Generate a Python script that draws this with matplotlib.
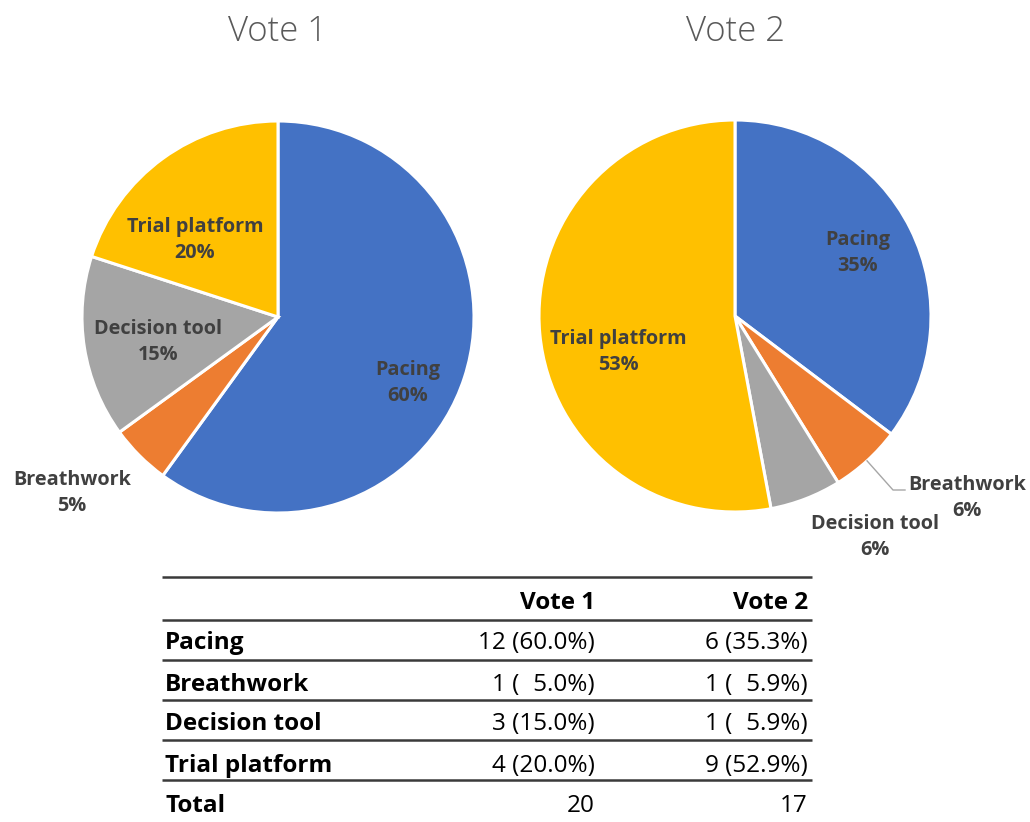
import numpy as np
import matplotlib
matplotlib.use("Agg")
import matplotlib.pyplot as plt

# ---- data ----
categories = ["Pacing", "Breathwork", "Decision tool", "Trial platform"]
vote1 = [12, 1, 3, 4]
vote2 = [6, 1, 1, 9]
titles = ["Vote 1", "Vote 2"]
colors = ["#4472C4", "#ED7D31", "#A5A5A5", "#FFC000"]

W, H = 1030, 822
fig = plt.figure(figsize=(W / 100, H / 100), dpi=100)
ax = fig.add_axes([0, 0, 1, 1])
ax.set_xlim(0, W)
ax.set_ylim(0, H)
ax.set_aspect("equal")
ax.axis("off")

def Y(y):
    return H - y

R = 196
centers = [(278, Y(317)), (735, Y(316))]
title_pos = [(278, Y(32)), (735, Y(32))]

label_font = dict(family=["Open Sans", "DejaVu Sans"], fontweight="bold",
                  fontsize=14.3, color="#404040", ha="center", va="center",
                  linespacing=1.35)

# label positions (pixel coords) per pie, per category
label_pos = [
    [(408, 383), (72, 493), (158, 342), (195, 240)],
    [(858, 253), (967, 498), (875, 537), (618, 352)],
]

for k, vals in enumerate([vote1, vote2]):
    cx, cy = centers[k]
    ax.pie(vals, colors=colors, startangle=90, counterclock=False,
           center=(cx, cy), radius=R, frame=True,
           wedgeprops=dict(edgecolor="white", linewidth=2.2))
    tot = sum(vals)
    for i, (c, v) in enumerate(zip(categories, vals)):
        lx, ly = label_pos[k][i]
        ax.text(lx, Y(ly), f"{c}\n{round(100 * v / tot):d}%", **label_font)
    ax.text(title_pos[k][0], title_pos[k][1], titles[k],
            family=["Open Sans", "DejaVu Sans"], fontweight="light",
            fontsize=25, color="#595959", ha="center", va="center")

# leader line for Breathwork in Vote 2
vals = vote2
tot = sum(vals)
ang = 90 - 360 * (vals[0] + vals[1] / 2) / tot
cx, cy = centers[1]
px, py = cx + R * np.cos(np.radians(ang)), cy + R * np.sin(np.radians(ang))
ax.plot([px, 893, 905], [py, Y(490), Y(490)], color="#A6A6A6", lw=1.0)
ax.set_xlim(0, W)
ax.set_ylim(0, H)

# ---- table ----
tbl_font = dict(family=["Open Sans", "DejaVu Sans"], fontsize=17.5, color="black",
                va="center")
x_left, x_right = 162, 812
col_x = [595, 808]
row_y = [603, 643, 685, 724, 766, 806]
line_y = [577, 620, 660, 700, 740, 780]
ax.hlines([Y(y) for y in line_y], x_left, x_right, color="#3a3a3a", lw=1.8)

for j, t in enumerate(titles):
    ax.text(col_x[j], Y(row_y[0]), t, ha="right", fontweight="bold", **tbl_font)

t1, t2 = sum(vote1), sum(vote2)
for i, c in enumerate(categories):
    y = Y(row_y[i + 1])
    ax.text(165, y, c, ha="left", fontweight="bold", **tbl_font)
    for j, (vals, tt) in enumerate([(vote1, t1), (vote2, t2)]):
        p = f"{100 * vals[i] / tt:.1f}"
        p = p if len(p) == 4 else "\u2007" + p
        s = f"{vals[i]} ({p}%)"
        ax.text(col_x[j], y, s, ha="right", **tbl_font)

ax.text(165, Y(row_y[-1]), "Total", ha="left", fontweight="bold", **tbl_font)
ax.text(col_x[0], Y(row_y[-1]), str(t1), ha="right", **tbl_font)
ax.text(col_x[1], Y(row_y[-1]), str(t2), ha="right", **tbl_font)

fig.savefig("out.png", dpi=100, facecolor="white")
